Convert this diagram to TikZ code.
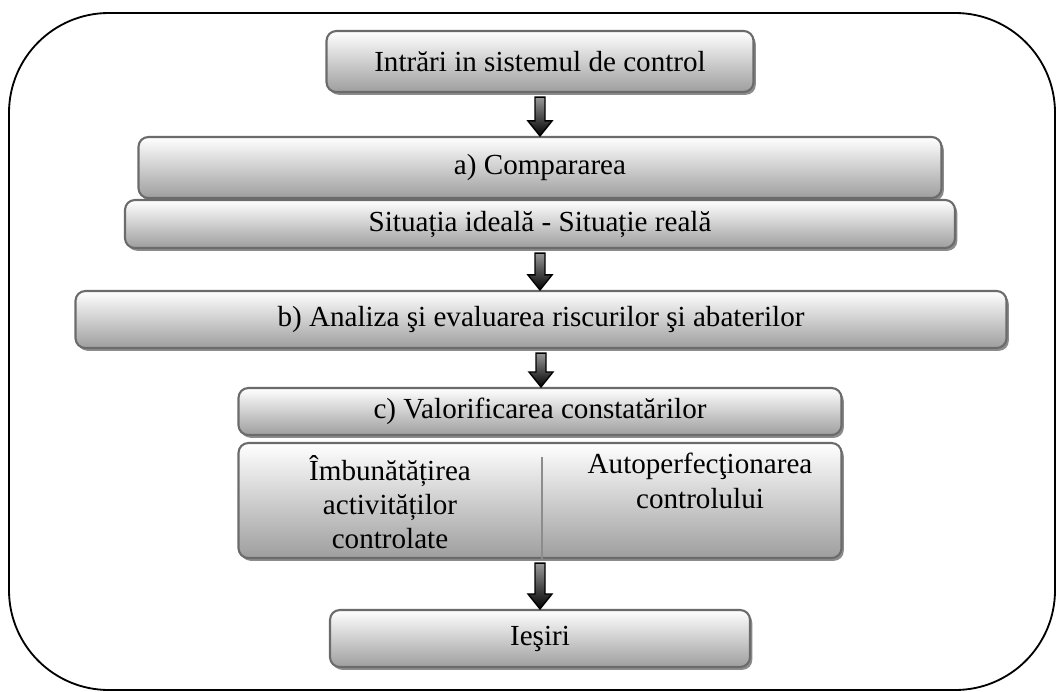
\documentclass[tikz,border=0pt]{standalone}
\usepackage{fontspec}
\setmainfont{Liberation Serif}
\usetikzlibrary{calc,shadows}

\tikzset{
  flowbox/.style={rectangle, rounded corners=7pt, draw=black!58, line width=1.5pt,
    top color=white, bottom color=black!38,
    drop shadow={shadow xshift=1.6pt, shadow yshift=-2pt, fill=black!45, opacity=1},
    font=\fontsize{20.7}{24.4}\selectfont, inner sep=0pt, align=center},
  boxsize/.style 2 args={minimum width=#1*0.025cm, minimum height=#2*0.025cm},
  flowtext/.style={font=\fontsize{20.7}{24.4}\selectfont, align=center, inner sep=0pt},
  arrowbody/.style={draw=black, line width=1pt, top color=black!40, bottom color=black},
  frame/.style={draw=black, line width=1.3pt, rounded corners=71pt}
}

% block arrow from the bottom of #1 to the top of #2
\newcommand\flowarrow[2]{%
  \path[arrowbody] ($(#1.south)+(-5,4)$) -- ($(#1.south)+(5,4)$)
    -- ($(#1.south |- #2.north)+(5,-15)$) -- ($(#1.south |- #2.north)+(12,-15)$)
    -- (#1.south |- #2.north)
    -- ($(#1.south |- #2.north)+(-12,-15)$) -- ($(#1.south |- #2.north)+(-5,-15)$) -- cycle;}

\begin{document}
\begin{tikzpicture}[x=0.025cm, y=-0.025cm]
	\useasboundingbox (0,0) rectangle (1056,691);
	\draw[frame] (9,13) rectangle (1055,690);

	\node[flowbox, boxsize={427}{61}] (in) at (540,61.5) {Intrări in sistemul de control};
	\node[flowbox, boxsize={803}{61}] (cmp) at (540,167.5) {a) Compararea};
	\node[flowbox, boxsize={830}{48}] (sit) at (540,224) {Situația ideală - Situație reală};
	\node[flowbox, boxsize={931}{57}] (anl) at (541,319.5) {b) Analiza şi evaluarea riscurilor şi abaterilor};
	\node[flowbox, boxsize={603}{47}] (val) at (540,411.5) {c) Valorificarea constatărilor};
	\node[flowbox, boxsize={603}{115}] (act) at (540,500.5) {};
	\node[flowtext] (imb) at (390,502) {Îmbunătățirea\\activităților\\controlate};
	\node[flowtext] (aut) at (700,481) {Autoperfecţionarea\\controlului};
	\coordinate (divtop) at (542,457);
	\draw[black!45, line width=0.8pt] (divtop) -- (divtop |- act.south);
	\node[flowbox, boxsize={420}{57}] (out) at (540,638.5) {Ieşiri};

	\flowarrow{in}{cmp}
	\flowarrow{sit}{anl}
	\flowarrow{anl}{val}
	\flowarrow{act}{out}
\end{tikzpicture}
\end{document}
